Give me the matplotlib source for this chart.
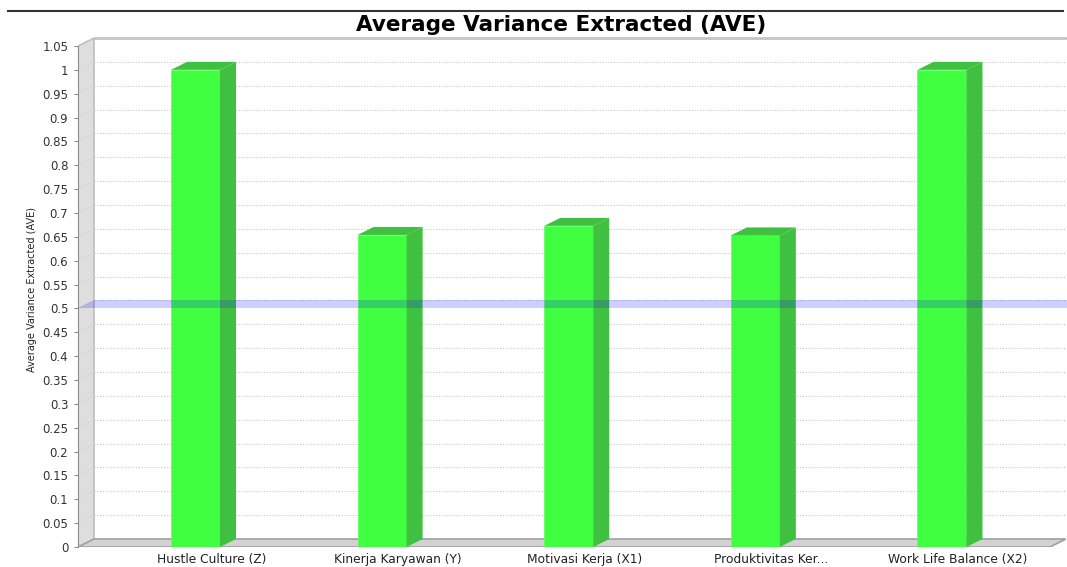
import matplotlib
matplotlib.use("Agg")
import matplotlib.pyplot as plt
from matplotlib.patches import Polygon
from matplotlib.lines import Line2D

categories = ["Hustle Culture (Z)", "Kinerja Karyawan (Y)", "Motivasi Kerja (X1)",
              "Produktivitas Ker...", "Work Life Balance (X2)"]
ave_values = [1.0, 0.654, 0.673, 0.653, 1.0]
threshold = 0.5
y_ticks = [round(0.05 * i, 2) for i in range(22)]

# 3D look: depth offsets in data units
DX = 0.0857
DY = 0.01677
BAR_W = 0.2626
X0 = -0.6297
XR = 4.579
XMAX = XR + DX
YTOP = 1.05 + DY

FRONT = "#40ff40"
SIDE = "#40c040"


def main():
    fig = plt.figure(figsize=(10.67, 5.67), dpi=100)
    ax = fig.add_axes([78 / 1067, 20 / 567, 988 / 1067, 509 / 567])
    ax.set_xlim(X0, XMAX)
    ax.set_ylim(0, YTOP)
    for s in ["top", "right", "bottom"]:
        ax.spines[s].set_visible(False)
    ax.spines["left"].set_bounds(0, 1.05)
    ax.spines["left"].set_color("#8c8c8c")
    ax.spines["left"].set_zorder(4)

    # back wall outline
    ax.plot([X0 + DX, XMAX], [YTOP, YTOP], color="#c4c4c4", lw=2, clip_on=False, zorder=1)

    # left wall and floor
    ax.add_patch(Polygon([(X0, 0), (X0, 1.05), (X0 + DX, YTOP), (X0 + DX, DY)],
                         closed=True, facecolor="#dedede", edgecolor="#b4b4b4", lw=1, zorder=1))
    ax.add_patch(Polygon([(X0, 0), (XR, 0), (XMAX, DY), (X0 + DX, DY)],
                         closed=True, facecolor="#d2d2d2", edgecolor="#a0a0a0", lw=1.2, zorder=1))

    # dotted gridlines on back wall + diagonal on left wall
    for v in y_ticks[1:]:
        ax.plot([X0 + DX, XMAX], [v + DY, v + DY], color="#c8c8c8", lw=0.8,
                linestyle=(0, (1, 1.5)), zorder=1.5)
        ax.plot([X0, X0 + DX], [v, v + DY], color="#d0d0d0", lw=0.8,
                linestyle=(0, (1, 1.5)), zorder=1.5)

    # bars: front face, side and top
    xs = list(range(len(categories)))
    ax.bar(xs, ave_values, width=BAR_W, color=FRONT, edgecolor="#5cff5c", lw=0.5, zorder=3)
    for x, v in zip(xs, ave_values):
        xl = x - BAR_W / 2
        xr = x + BAR_W / 2
        ax.add_patch(Polygon([(xr, 0), (xr + DX, DY), (xr + DX, v + DY), (xr, v)],
                             closed=True, facecolor=SIDE, edgecolor="none", zorder=3))
        ax.add_patch(Polygon([(xl, v), (xl + DX, v + DY), (xr + DX, v + DY), (xr, v)],
                             closed=True, facecolor=SIDE, edgecolor="none", zorder=3))

    # threshold band at 0.5
    ax.add_patch(Polygon([(X0, threshold), (XMAX + 0.01, threshold),
                          (XMAX + 0.01, threshold + DY), (X0 + DX, threshold + DY)],
                         closed=True, facecolor="#1010ff", alpha=0.2, edgecolor="none",
                         zorder=5, clip_on=False))

    ax.set_yticks(y_ticks)
    ax.set_yticklabels(["%g" % t for t in y_ticks])
    ax.tick_params(axis="y", length=3, width=0.8, color="#8c8c8c", pad=4,
                   labelsize=8.5, labelcolor="#333333")
    ax.set_xticks([x + DX for x in xs])
    ax.set_xticklabels(categories)
    ax.tick_params(axis="x", length=0, pad=4, labelsize=8.8, labelcolor="#222222")
    for lab in ax.get_xticklabels() + ax.get_yticklabels():
        lab.set_fontfamily("DejaVu Sans")

    fig.text(32 / 1067, 1 - 289 / 567, "Average Variance Extracted (AVE)", rotation=90,
             ha="center", va="center", fontsize=7, color="#222222",
             family=["Liberation Sans Narrow", "DejaVu Sans"])
    fig.text(561 / 1067, 1 - 25 / 567, "Average Variance Extracted (AVE)",
             ha="center", va="center", fontsize=15.5, fontweight="bold", color="black")
    fig.add_artist(Line2D([8 / 1067, 1063 / 1067], [1 - 11 / 567, 1 - 11 / 567],
                          color="#333333", lw=1.5))

    fig.savefig("out.png", dpi=100)
    plt.close(fig)


if __name__ == "__main__":
    main()
